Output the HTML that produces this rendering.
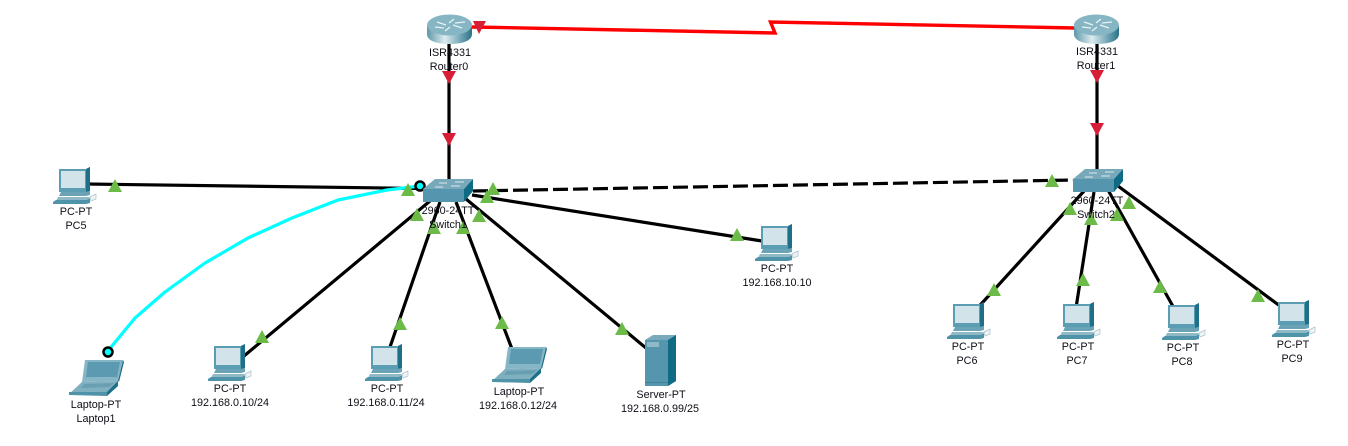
<!DOCTYPE html>
<html><head><meta charset="utf-8"><style>
html,body{margin:0;padding:0;background:#fff;width:1348px;height:446px;overflow:hidden}
svg{display:block}
text{font-family:"Liberation Sans",sans-serif;font-size:10.8px;fill:#0d0d16;text-anchor:middle}
</style></head><body>
<svg width="1348" height="446" viewBox="0 0 1348 446" xmlns="http://www.w3.org/2000/svg">
<defs>
<linearGradient id="rg" x1="0" x2="1" y1="0" y2="0"><stop offset="0" stop-color="#5f97a9"/><stop offset=".4" stop-color="#dcebef"/><stop offset=".7" stop-color="#7fafbd"/><stop offset="1" stop-color="#2b7186"/></linearGradient>
<g id="pc">
<polygon points="6,2 33,2 37,0 37,24 33,25 6,25" fill="#5b9db3"/>
<polygon points="33,2 37,0 37,24 33,25" fill="#1d7088"/>
<rect x="8" y="4" width="24" height="17" fill="#d3e3ea"/>
<polygon points="8,25 33,25 37,24 37,28 33,29 6,29" fill="#6aa3b5"/>
<polygon points="5,30 37,30 34,34 3,34" fill="#8fb9c6"/>
<polygon points="3,33 34,33 37,31 37,36 33,37 0,37 0,35" fill="#4f93a9"/>
<path d="M37 30 L43 27 L43 32 L38 34 Z" fill="#eef3f5" stroke="#a9c4cd" stroke-width=".7"/>
</g>
<g id="laptop">
<polygon points="16,1 54,1 49,22 13,23" fill="#86b5c6"/>
<polygon points="54,1 55,3 50,23 49,22" fill="#1d7088"/>
<polygon points="19,3 51,3 48,18 17,18" fill="#5b9ab0"/>
<polygon points="13,23 49,22 38,34 0,35" fill="#7fb0c0"/>
<polygon points="15,25 45,24 40,28 12,29" fill="#6a9fb1"/>
<polygon points="0,33 38,33 38,37 0,36" fill="#4f93a9"/>
<polygon points="38,33 49,22 49,27 38,37" fill="#1d7088"/>
</g>
<g id="router">
<path d="M0 12 V20 C0 27 10 30 22.500 30 C35 30 45 27 45 20 V12 Z" fill="url(#rg)"/>
<ellipse cx="22.500" cy="11" rx="22.500" ry="10.500" fill="#86b5c4"/>
<path d="M10 8 L19 11 M35 14 L26 11 M27 5 L22 9 M18 17 L23 13 M28 9 L38 8 M8 13 L17 14" stroke="#e8f2f5" stroke-width="1.300" fill="none"/>
</g>
<g id="switch">
<polygon points="0,10 12,0 50,0 41,10" fill="#77a9bb"/>
<polygon points="0,10 41,10 41,23 0,23" fill="#5596ae"/>
<polygon points="41,10 50,0 50,12 41,23" fill="#0f6a83"/>
<path d="M16 4 H24 M32 3 H41 M12 8 H20 M28 7 H37" stroke="#dbe9ee" stroke-width="1" fill="none"/>
</g>
</defs>

<!-- links -->
<g fill="none" stroke="#000" stroke-width="3.200">
<path d="M449 44 V179"/>
<path d="M1097 44 V170"/>
<path d="M86 184 L423 188.500"/>
<path d="M473 191 L1073 180" stroke-dasharray="15 5"/>
<path d="M430 201 L244 356"/>
<path d="M440 202 L390 347"/>
<path d="M456 202 L512 349"/>
<path d="M466 199 L646 348"/>
<path d="M472 195 L762 241"/>
<path d="M1085 190 L973 313"/>
<path d="M1094 192 L1076 308"/>
<path d="M1108 190 L1175 310"/>
<path d="M1118 186 L1280 306"/>
</g>
<path d="M472 27 L775 33 L770.500 22 L1075 28" fill="none" stroke="#ff0000" stroke-width="3.400"/>
<path d="M107 352 L135 318 L165 292 L205 263 L248 238 L292 218 L338 200 L387 190 L420 186" fill="none" stroke="#00ffff" stroke-width="3.200" stroke-linejoin="round"/>
<circle cx="420" cy="186" r="4.500" fill="#00ffff" stroke="#000" stroke-width="2.500"/>
<circle cx="108" cy="352" r="4.500" fill="#00ffff" stroke="#000" stroke-width="2.500"/>

<!-- devices -->
<use href="#router" x="427" y="14"/>
<use href="#router" x="1074" y="14"/>
<use href="#switch" x="423" y="179"/>
<use href="#switch" x="1073" y="169"/>
<use href="#pc" x="53" y="167"/>
<use href="#pc" x="208" y="344"/>
<use href="#pc" x="365" y="344"/>
<use href="#pc" x="755" y="224"/>
<use href="#pc" x="947" y="302"/>
<use href="#pc" x="1057" y="302"/>
<use href="#pc" x="1162" y="303"/>
<use href="#pc" x="1272" y="300"/>
<use href="#laptop" x="69" y="359"/>
<use href="#laptop" x="492" y="346"/>
<polygon points="645,340 668,340 676,335 676,381 668,386 645,386" fill="#5596ae"/>
<polygon points="645,340 653,335 676,335 668,340" fill="#79aabb"/>
<polygon points="668,340 676,335 676,381 668,386" fill="#0f6a83"/>
<rect x="647" y="342" width="12" height="5" fill="#8fb9c6"/>
<rect x="645" y="382" width="23" height="1" fill="#3f8298"/>

<!-- red triangles -->
<g fill="#d81e36">
<polygon points="473,21 486,21 479,34"/>
<polygon points="442,71 456,71 449,84"/>
<polygon points="442,133 456,133 449,146"/>
<polygon points="1090,70 1104,70 1097,83"/>
<polygon points="1090,123 1104,123 1097,136"/>
</g>
<!-- green triangles -->
<g fill="#6cbb48">
<polygon points="115,179 108,192 122,192"/>
<polygon points="408,183 401,196 415,196"/>
<polygon points="417,208 410,221 424,221"/>
<polygon points="434,221 427,234 441,234"/>
<polygon points="463,221 456,234 470,234"/>
<polygon points="479,209 472,222 486,222"/>
<polygon points="487,190 480,203 494,203"/>
<polygon points="493,182 486,195 500,195"/>
<polygon points="262,330 255,343 269,343"/>
<polygon points="400,317 393,330 407,330"/>
<polygon points="502,316 495,329 509,329"/>
<polygon points="622,322 615,335 629,335"/>
<polygon points="737,228 730,241 744,241"/>
<polygon points="1052,174 1045,187 1059,187"/>
<polygon points="1070,202 1063,215 1077,215"/>
<polygon points="1091,212 1084,225 1098,225"/>
<polygon points="1117,208 1110,221 1124,221"/>
<polygon points="1129,196 1122,209 1136,209"/>
<polygon points="994,283 987,296 1001,296"/>
<polygon points="1083,273 1076,286 1090,286"/>
<polygon points="1160,280 1153,293 1167,293"/>
<polygon points="1258,289 1251,302 1265,302"/>
</g>

<!-- labels on top -->
<text x="450" y="56">ISR4331</text><text x="449" y="70">Router0</text>
<text x="1097" y="55">ISR4331</text><text x="1096" y="69">Router1</text>
<text x="448" y="214">2960-24TT</text><text x="448" y="228">Switch1</text>
<text x="1097" y="204">2960-24TT</text><text x="1096" y="218">Switch2</text>
<text x="76" y="215">PC-PT</text><text x="76" y="229">PC5</text>
<text x="96" y="408">Laptop-PT</text><text x="96" y="422">Laptop1</text>
<text x="230" y="392">PC-PT</text><text x="230" y="406">192.168.0.10/24</text>
<text x="387" y="392">PC-PT</text><text x="386" y="406">192.168.0.11/24</text>
<text x="519" y="395">Laptop-PT</text><text x="518" y="409">192.168.0.12/24</text>
<text x="661" y="398">Server-PT</text><text x="660" y="412">192.168.0.99/25</text>
<text x="777" y="272">PC-PT</text><text x="777" y="286">192.168.10.10</text>
<text x="968" y="350">PC-PT</text><text x="967" y="364">PC6</text>
<text x="1078" y="350">PC-PT</text><text x="1077" y="364">PC7</text>
<text x="1183" y="351">PC-PT</text><text x="1182" y="365">PC8</text>
<text x="1293" y="348">PC-PT</text><text x="1292" y="362">PC9</text>
</svg>
</body></html>
